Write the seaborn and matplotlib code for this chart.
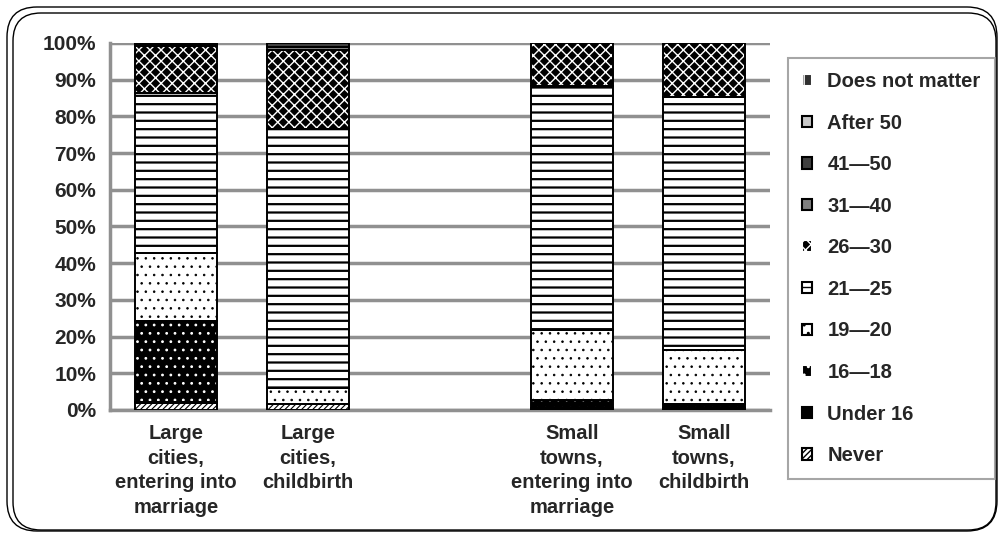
import numpy as np
import pandas as pd
import matplotlib
matplotlib.use("Agg")
import matplotlib.pyplot as plt
import matplotlib.patches as mpatches
from matplotlib.patches import FancyBboxPatch
import seaborn as sns

# categories (middle one is an empty slot in the original chart)
categories = ["Large\ncities,\nentering into\nmarriage", "Large\ncities,\nchildbirth", "",
              "Small\ntowns,\nentering into\nmarriage", "Small\ntowns,\nchildbirth"]

levels = ["Never", "Under 16", "16\u201418", "19\u201420", "21\u201425", "26\u201430",
          "31\u201440", "41\u201450", "After 50", "Does not matter"]

# percent shares per level, one value per category
never        = [2.0, 1.5, 0, 0.3, 0.2]
under_16     = [0.3, 0.0, 0, 0.2, 0.3]
age_16_18    = [22.0, 0.0, 0, 2.3, 1.2]
age_19_20    = [18.5, 4.5, 0, 19.0, 14.6]
age_21_25    = [43.5, 70.5, 0, 66.5, 69.0]
age_26_30    = [12.9, 21.5, 0, 11.7, 14.7]
age_31_40    = [0.3, 0.8, 0, 0.0, 0.0]
age_41_50    = [0.2, 1.2, 0, 0.0, 0.0]
after_50     = [0.0, 0.0, 0, 0.0, 0.0]
not_matter   = [0.3, 0.0, 0, 0.0, 0.0]

series = [never, under_16, age_16_18, age_19_20, age_21_25, age_26_30,
          age_31_40, age_41_50, after_50, not_matter]

# (facecolor, hatch colour, hatch, hatch linewidth)
styles = {
    "Never": ("white", "black", "//////", 0.8),
    "Under 16": ("black", "black", None, 1),
    "16\u201418": ("black", "white", "..", 0.8),
    "19\u201420": ("white", "black", "..", 0.6),
    "21\u201425": ("white", "black", "--", 1.6),
    "26\u201430": ("black", "white", "xxx", 1.0),
    "31\u201440": ("#808080", "#808080", None, 1),
    "41\u201450": ("#404040", "#404040", None, 1),
    "After 50": ("#c8c8c8", "#c8c8c8", None, 1),
    "Does not matter": ("#303030", "white", "||", 0.8),
}

sns.set_style("white")
plt.rcParams["font.family"] = ["Liberation Sans", "DejaVu Sans"]
plt.rcParams["hatch.linewidth"] = 1.0

fig = plt.figure(figsize=(10, 5.33), dpi=100)
ax = fig.add_axes([0.110, 0.2308, 0.660, 0.6886])

bar_w = 0.62
bottom = np.zeros(len(categories))
for lvl, vals in zip(levels, series):
    fc, hc, hatch, hlw = styles[lvl]
    df = pd.DataFrame({"cat": categories, "val": vals})
    n0 = len(ax.patches)
    sns.barplot(data=df, x="cat", y="val", order=categories, bottom=bottom,
                color=fc, saturation=1, width=bar_w, errorbar=None,
                linewidth=0, ax=ax, zorder=3)
    for p in ax.patches[n0:]:
        p.set_facecolor(fc)
        p.set_edgecolor(hc)
        p.set_linewidth(0)
        if hatch:
            p.set_hatch(hatch)
            if hasattr(p, "set_hatch_linewidth"):
                p.set_hatch_linewidth(hlw)
    n1 = len(ax.patches)
    sns.barplot(data=df, x="cat", y="val", order=categories, bottom=bottom,
                color="black", fill=False, width=bar_w, errorbar=None,
                linewidth=1.4, ax=ax, zorder=4)
    for p, v in zip(ax.patches[n1:], vals):
        if v == 0:
            p.set_visible(False)
    bottom = bottom + np.array(vals)

ax.set_ylim(0, 100)
ax.set_xlim(-0.5, len(categories) - 0.5)
ax.set_yticks(range(0, 101, 10))
ax.set_yticklabels([f"{t}%" for t in range(0, 101, 10)], fontsize=15, fontweight="bold")
ax.set_xticks(range(len(categories)))
ax.set_xticklabels(categories, fontsize=14.5, fontweight="bold", linespacing=1.38, va="top")
ax.set_xticks(np.arange(-0.5, len(categories), 1), minor=True)
ax.tick_params(axis="x", which="major", length=0, pad=10)
ax.tick_params(axis="x", which="minor", length=6, width=2.5, color="#909090", direction="out")
ax.tick_params(axis="y", length=6, width=2.5, color="#909090", direction="out", pad=4)
ax.set_xlabel("")
ax.set_ylabel("")
ax.yaxis.grid(True, color="#909090", linewidth=2.5, zorder=0)
ax.set_axisbelow(True)
for s in ["top", "right"]:
    ax.spines[s].set_visible(False)
for s in ["left", "bottom"]:
    ax.spines[s].set_color("#909090")
    ax.spines[s].set_linewidth(2.5)

handles = []
for lvl in levels[::-1]:
    fc, hc, hatch, hlw = styles[lvl]
    h = mpatches.Patch(facecolor=fc, edgecolor="black" if hatch is None else hc,
                       hatch=hatch, linewidth=1.5, label=lvl)
    if hatch and hasattr(h, "set_hatchcolor"):
        h.set_hatchcolor(hc)
        h.set_edgecolor("black")
    handles.append(h)
leg = fig.legend(handles=handles, loc="upper left", bbox_to_anchor=(0.788, 1 - 58 / 533),
                 frameon=True, fancybox=False, edgecolor="#909090", handlelength=0.5,
                 handleheight=0.5, handletextpad=0.75, labelspacing=1.12, borderpad=0.7,
                 borderaxespad=0, prop={"weight": "bold", "size": 14.5})
leg.get_frame().set_linewidth(1.5)

# rounded double outer border (inches, from bottom-left)
fig.patches.append(FancyBboxPatch((0.07, 0.02), 9.9, 5.24, boxstyle="round,pad=0,rounding_size=0.3",
                                  transform=fig.dpi_scale_trans, fill=False, edgecolor="black", linewidth=1))
fig.patches.append(FancyBboxPatch((0.13, 0.03), 9.83, 5.17, boxstyle="round,pad=0,rounding_size=0.28",
                                  transform=fig.dpi_scale_trans, fill=False, edgecolor="black", linewidth=1))

fig.savefig("out.png", dpi=100)
